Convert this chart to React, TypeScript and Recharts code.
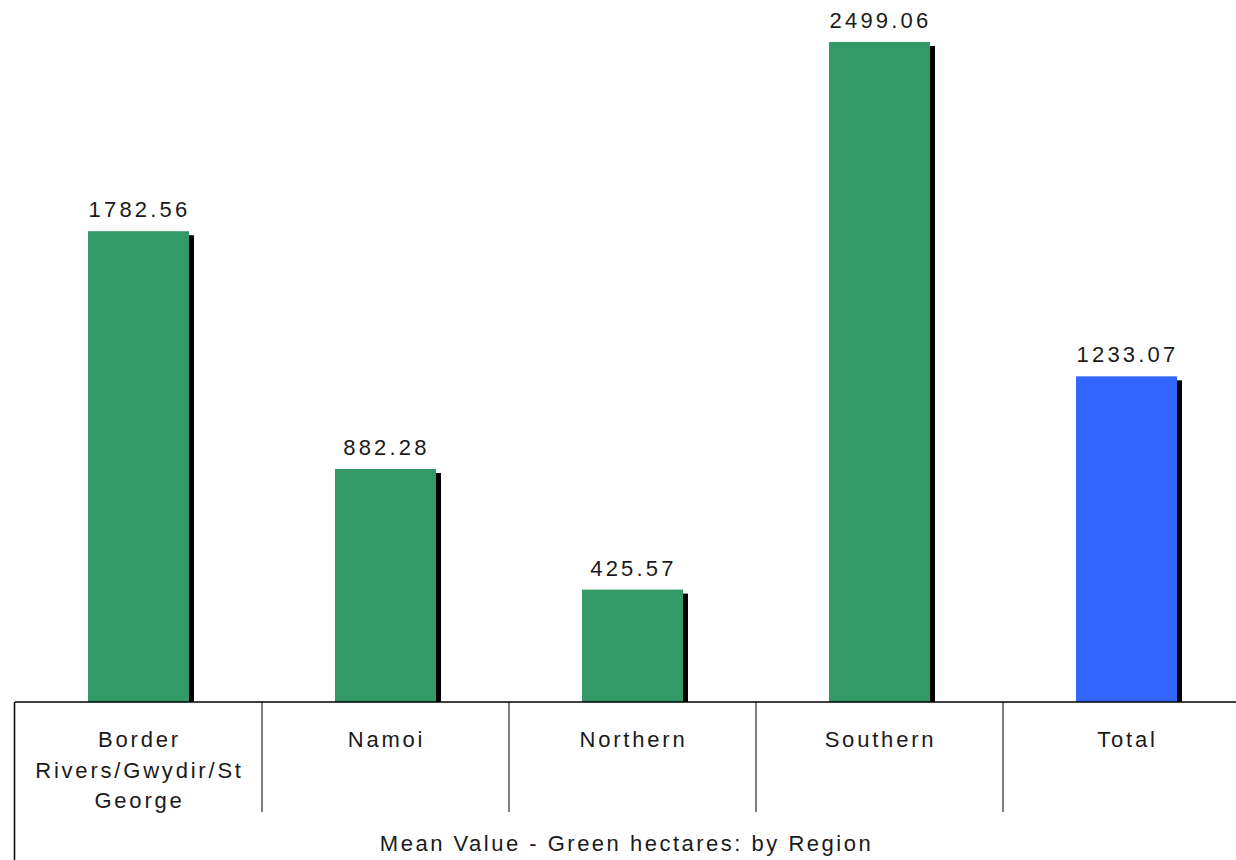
import React from 'react';
import { BarChart, Bar, XAxis, YAxis, Cell, LabelList, Label } from 'recharts';

const regions = ['Border Rivers/Gwydir/St George', 'Namoi', 'Northern', 'Southern', 'Total'];
const meanValues = [1782.56, 882.28, 425.57, 2499.06, 1233.07];
const barColors = ['#339966', '#339966', '#339966', '#339966', '#3366FF'];
const chartTitle = 'Mean Value - Green hectares: by Region';

const data = regions.map((region, i) => ({ region, value: meanValues[i] }));

const FONT = '"Liberation Sans", Arial, sans-serif';
const TEXT_COLOR = '#1a1a1a';

// rough word wrap so long region names fit in their cell
const wrapWords = (text: string, maxChars: number) => {
  const words = text.split(' ');
  const lines: string[] = [];
  let cur = '';
  words.forEach((w) => {
    const next = cur ? cur + ' ' + w : w;
    if (next.length > maxChars && cur) {
      lines.push(cur);
      cur = w;
    } else {
      cur = next;
    }
  });
  if (cur) lines.push(cur);
  return lines;
};

const ShadowBar = (props: any) => {
  const { x, y, width, height, fill } = props;
  if (!height || height <= 0) return null;
  return (
    <g>
      <rect x={x + 5} y={y + 4} width={width} height={height - 4} fill="#000" />
      <rect x={x} y={y} width={width} height={height} fill={fill} />
    </g>
  );
};

const RegionTick = (props: any) => {
  const { x, y, payload, index, visibleTicksCount } = props;
  const half = payload.offset || 123.5;
  const lines = wrapWords(payload.value, 16);
  const count = visibleTicksCount ?? regions.length;
  return (
    <g>
      {index === 0 && (
        <line x1={x - half - 0.5} x2={x - half - 0.5} y1={y} y2={y + 160} stroke="#000" strokeWidth={1.5} />
      )}
      {index < count - 1 && (
        <line x1={x + half} x2={x + half} y1={y} y2={y + 110} stroke="#000" strokeWidth={1} />
      )}
      {lines.map((line, i) => (
        <text
          key={i}
          x={x + 1}
          y={y + 45 + i * 30.5}
          textAnchor="middle"
          fontFamily={FONT}
          fontSize={22}
          letterSpacing={2.8}
          fill={TEXT_COLOR}
        >
          {line}
        </text>
      ))}
    </g>
  );
};

const ValueLabel = (props: any) => {
  const { x, y, width, value } = props;
  return (
    <text
      x={x + width / 2 + 1}
      y={y - 14}
      textAnchor="middle"
      fontFamily={FONT}
      fontSize={22}
      letterSpacing={3.2}
      fill={TEXT_COLOR}
    >
      {Number(value).toFixed(2)}
    </text>
  );
};

const TitleLabel = (props: any) => {
  const { viewBox } = props;
  return (
    <text
      x={viewBox.x + viewBox.width / 2 - 6}
      y={viewBox.y + 149}
      textAnchor="middle"
      fontFamily={FONT}
      fontSize={22}
      letterSpacing={2.5}
      fill={TEXT_COLOR}
    >
      {chartTitle}
    </text>
  );
};

export default function App() {
  return (
    <div style={{ position: 'fixed', left: 0, top: 0, width: 1236, height: 860, overflow: 'hidden', background: '#fff' }}>
      <BarChart width={1250} height={860} data={data} margin={{ top: 0, right: 0, left: 15, bottom: 0 }}>
        <YAxis hide domain={[0, 2658]} />
        <XAxis
          dataKey="region"
          height={158}
          interval={0}
          tickLine={false}
          tickSize={0}
          tickMargin={0}
          axisLine={{ stroke: '#000', strokeWidth: 1.5 }}
          tick={<RegionTick />}
        >
          <Label content={<TitleLabel />} />
        </XAxis>
        <Bar dataKey="value" barSize={101} shape={<ShadowBar />} isAnimationActive={false}>
          {data.map((d, i) => (
            <Cell key={d.region} fill={barColors[i]} />
          ))}
          <LabelList dataKey="value" content={<ValueLabel />} />
        </Bar>
      </BarChart>
    </div>
  );
}
